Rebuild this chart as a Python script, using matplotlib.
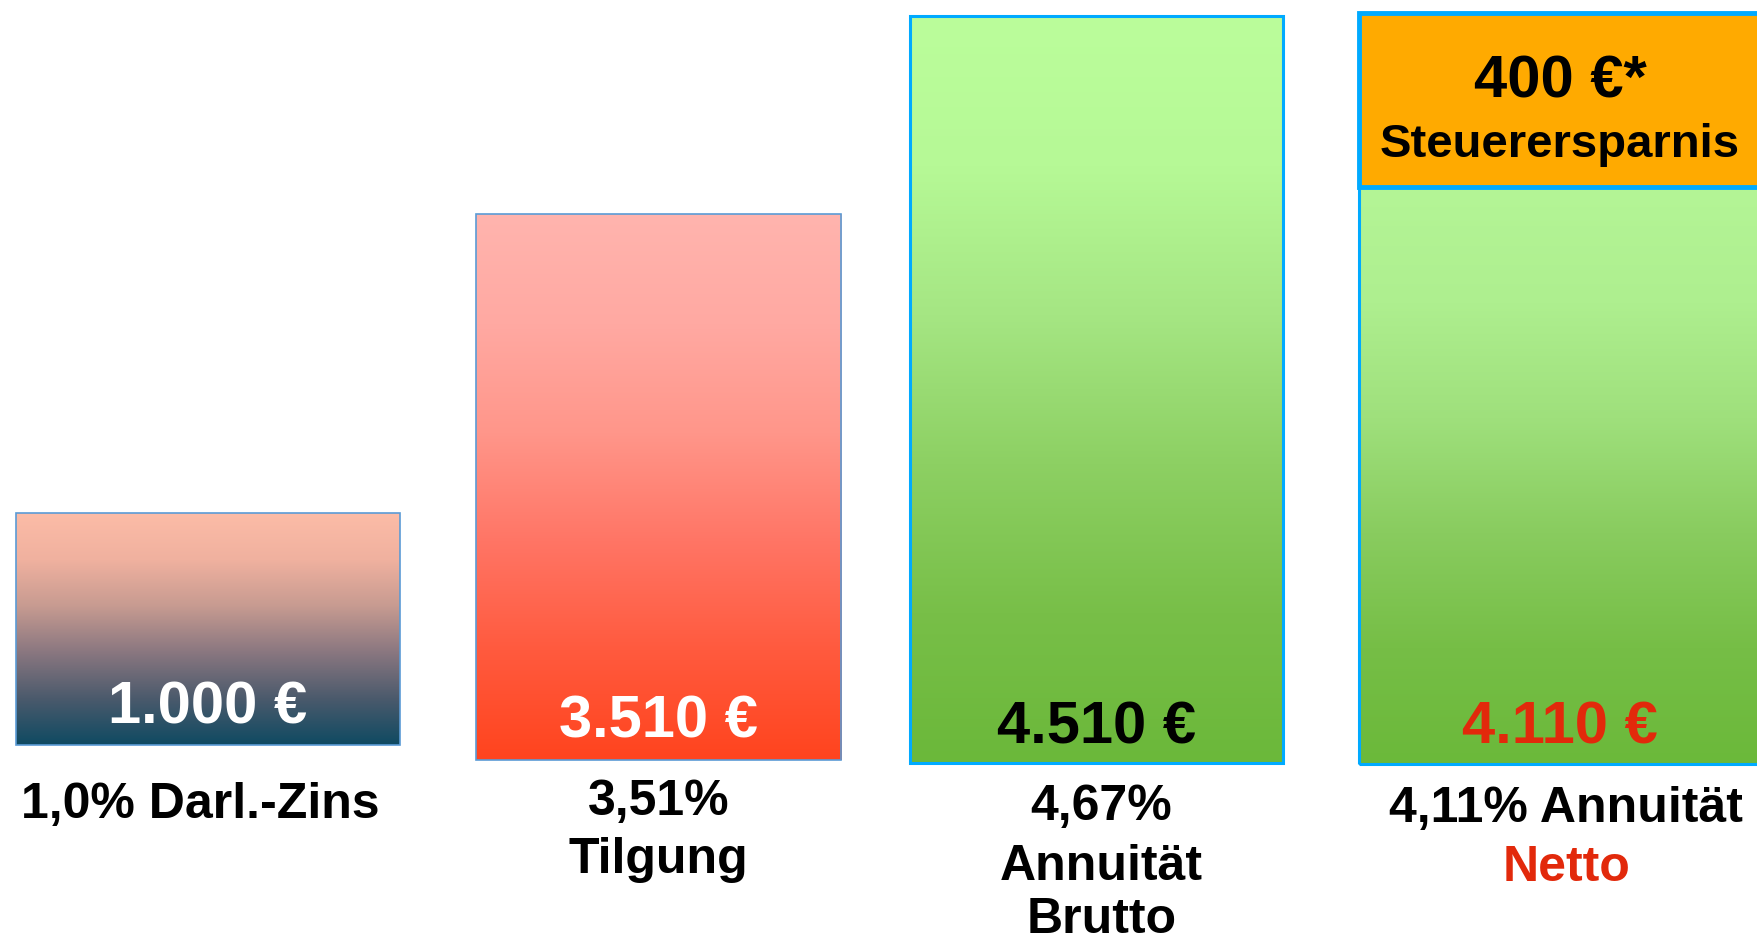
import numpy as np
import matplotlib.pyplot as plt
from matplotlib.colors import LinearSegmentedColormap

plt.rcParams['font.family'] = ['Liberation Sans', 'DejaVu Sans']
plt.rcParams['font.weight'] = 'bold'

# values shown in the chart (bars are schematic, not to scale)
amounts = ["1.000 €", "3.510 €", "4.510 €", "4.110 €"]
labels = [["1,0% Darl.-Zins"], ["3,51%", "Tilgung"], ["4,67%", "Annuität", "Brutto"],
          ["4,11% Annuität", "Netto"]]
# bar heights (chart units)
bar_height = [232, 546, 747, 577]
saving_height = 174
saving_text = ["400 €*", "Steuerersparnis"]

# layout
x = np.arange(4)
x_shift = [0.0, 0.0, -0.028, 0.0]
widths = [0.852, 0.81, 0.828, 0.89]
base = [19, 4, 1, 0]
label_dx = [-0.018, 0.0, 0.01, 0.014]
amount_colors = ['white', 'white', 'black', '#E2290B']
label_colors = [['black'], ['black', 'black'], ['black', 'black', 'black'], ['black', '#E2290B']]
edge_colors = ['#5B9BD5', '#5B9BD5', '#00AAFF', '#00AAFF']
edge_lw = [1.2, 1.2, 2.2, 2.2]
grads = [
    ['#FCBCA7', '#F0B19F', '#C79B91', '#8A7780', '#4B5A6C', '#0F4A62'],
    ['#FFB4AE', '#FFA9A2', '#FF968A', '#FF7565', '#FF5A3E', '#FF441E'],
    ['#BBFD9B', '#B6F996', '#A5E683', '#8DD063', '#78BF48', '#6BB83A'],
    ['#B4F596', '#AEEF8F', '#9FE07C', '#89CC5F', '#76BE46', '#6BB93A'],
]
amount_y = [41, 26, 21, 21]
label_y = [[-54], [-51, -109], [-56, -116, -169], [-58, -117]]

fig = plt.figure(figsize=(17.58, 9.44), dpi=100)
ax = fig.add_axes([0, 0, 1, 1])
ax.axis('off')

grad_img = np.linspace(0, 1, 256).reshape(-1, 1)
for i in range(4):
    xc = x[i] + x_shift[i]
    w = widths[i]
    bars = ax.bar(xc, bar_height[i], width=w, bottom=base[i], color='none',
                  edgecolor=edge_colors[i], linewidth=edge_lw[i], zorder=3)
    cmap = LinearSegmentedColormap.from_list('g%d' % i, grads[i])
    im = ax.imshow(grad_img, cmap=cmap, aspect='auto', zorder=2, origin='upper',
                   extent=[xc - w / 2, xc + w / 2, base[i], base[i] + bar_height[i]])
    im.set_clip_path(bars[0])
    ax.text(xc, amount_y[i], amounts[i], color=amount_colors[i],
            fontsize=43, ha='center', va='baseline', zorder=5)
    for line, ly, lc in zip(labels[i], label_y[i], label_colors[i]):
        ax.text(xc + label_dx[i], ly, line, color=lc, fontsize=36,
                ha='center', va='baseline', zorder=5)

# tax saving box on top of the last bar
top4 = base[3] + bar_height[3]
ax.bar(x[3], saving_height, width=widths[3], bottom=top4, color='#FFAA00',
       edgecolor='#00AAFF', linewidth=3.5, zorder=4)
ax.text(x[3], top4 + 90, saving_text[0], fontsize=43, ha='center', va='baseline', zorder=5)
ax.text(x[3], top4 + 30, saving_text[1], fontsize=34, ha='center', va='baseline', zorder=5)

ax.set_xlim(-0.4615, 3.4393)
ax.set_ylim(-180, 764)
fig.savefig('out.png', dpi=100)
